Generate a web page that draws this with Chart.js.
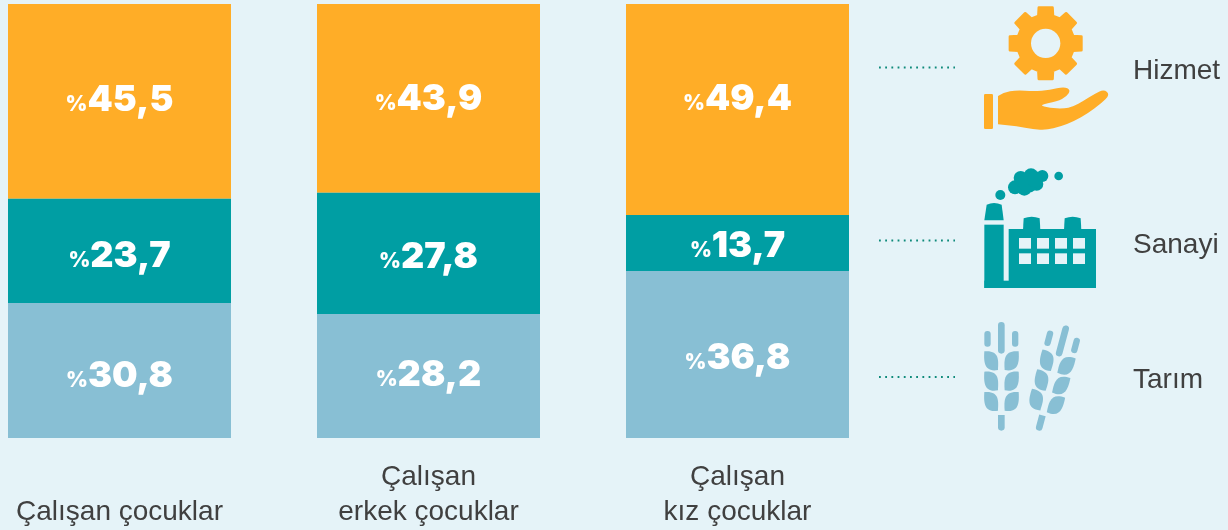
<!DOCTYPE html>
<html lang="tr">
<head>
<meta charset="utf-8">
<title>Çalışan çocuklar</title>
<script src="https://cdn.jsdelivr.net/npm/chart.js@4"></script>
<style>
html,body{margin:0;padding:0;width:1228px;height:530px;overflow:hidden;background:#E5F3F8}
#wrap{position:absolute;left:-35px;top:0;width:1263px;height:530px}
</style>
</head>
<body>
<div id="wrap"><canvas id="c" width="1263" height="530"></canvas></div>
<script>
const categories = [['', 'Çalışan çocuklar'], ['Çalışan', 'erkek çocuklar'], ['Çalışan', 'kız çocuklar'], ''];
const seriesNames = ['Tarım', 'Sanayi', 'Hizmet'];
// Printed values, as the reference's labels state them
const tarimPrinted = ['30,8', '28,2', '36,8'];
const sanayiPrinted = ['23,7', '27,8', '13,7'];
const hizmetPrinted = ['45,5', '43,9', '49,4'];
// Segment heights (the reference's segments are not exactly to scale with its labels)
const tarimDrawn = [31.1, 28.6, 38.5];
const sanayiDrawn = [24.0, 27.9, 12.9];
const hizmetDrawn = [44.9, 43.5, 48.6];

const C = {bg:'#E5F3F8', orange:'#FFAD27', teal:'#009EA3', blue:'#88BFD4', text:'#404040', dot:'#0E8A7A'};
const OX = 35; // canvas offset
const labelShift = [[3,-3,1.5],[3.5,1.5,1.5],[-3.5,-1.5,-12.5]]; // per series, per bar: px from segment centre

function rr(ctx,x,y,w,h,r){ctx.beginPath();ctx.roundRect(x,y,w,h,r);ctx.fill();}
function smooth(ctx,pts){
  ctx.beginPath();
  ctx.moveTo(pts[0][0],pts[0][1]);
  for(let i=1;i<pts.length-1;i++){
    const mx=(pts[i][0]+pts[i+1][0])/2,my=(pts[i][1]+pts[i+1][1])/2;
    ctx.quadraticCurveTo(pts[i][0],pts[i][1],mx,my);
  }
  ctx.lineTo(pts[pts.length-1][0],pts[pts.length-1][1]);
  ctx.closePath();ctx.fill();
}
function gear(ctx){
  const cx=557,cy=130,R=109,r=85,n=8;
  ctx.beginPath();
  for(let i=0;i<n;i++){
    const a=-Math.PI/2+i*2*Math.PI/n, s=2*Math.PI/n;
    const p=(rad,t)=>[cx+rad*Math.cos(a+t*s),cy+rad*Math.sin(a+t*s)];
    const q=[p(r,-0.33),p(R,-0.24),p(R,0.24),p(r,0.33)];
    q.forEach((pt,j)=>{ (i===0&&j===0)?ctx.moveTo(pt[0],pt[1]):ctx.lineTo(pt[0],pt[1]); });
  }
  ctx.closePath();
  ctx.lineJoin='round';ctx.lineWidth=8;ctx.strokeStyle=C.orange;ctx.fillStyle=C.orange;ctx.stroke();ctx.fill();
  ctx.fillStyle=C.bg;ctx.beginPath();ctx.arc(cx,cy,44,0,7);ctx.fill();
}
function hand(ctx){
  ctx.fillStyle=C.orange;
  rr(ctx,372,282,27,105,4);
  smooth(ctx,[[414,288],[430,278],[470,270],[520,274],[570,270],[612,260],[632,270],[620,290],[592,304],[535,315],[570,324],[610,326],[640,320],[670,303],[705,281],[732,268],[750,284],[724,310],[684,340],[642,364],[600,380],[560,390],[520,388],[470,378],[414,373]]);
}
function factory(ctx){
  ctx.fillStyle=C.teal;
  ctx.fillRect(373,674,58,190);
  ctx.fillRect(446,687,262,177);
  ctx.fillRect(373,842,335,22);
  ctx.beginPath();ctx.moveTo(380,614);ctx.quadraticCurveTo(402,604,425,614);ctx.lineTo(431,661);ctx.lineTo(373,661);ctx.closePath();ctx.fill();
  [[495,535,489,541],[618,658,612,664]].forEach(k=>{
    ctx.beginPath();ctx.moveTo(k[2]+2,655);ctx.quadraticCurveTo((k[0]+k[1])/2,645,k[3]-2,655);ctx.lineTo(k[3],690);ctx.lineTo(k[2],690);ctx.closePath();ctx.fill();
  });
  [[421,585,15],[596,528,13],[465,562,21],[482,534,21],[513,527,22],[547,528,18],[530,552,20],[493,565,22],[505,548,30],[525,538,24]].forEach(c=>{
    ctx.beginPath();ctx.arc(c[0],c[1],c[2],0,7);ctx.fill();
  });
  ctx.fillStyle=C.bg;
  [477,531,585,639].forEach(x=>[714,760].forEach(y=>ctx.fillRect(x,y,36,32)));
}
function wheat(ctx){
  ctx.fillStyle=C.blue;
  rr(ctx,414,66,20,95,10);
  rr(ctx,373,93,19,47,9);
  rr(ctx,456,93,19,47,9);
  rr(ctx,414,345,20,47,[0,0,10,10]);
  [154,215,276].forEach(y=>{
    ctx.beginPath();ctx.moveTo(373,y);ctx.bezierCurveTo(418,y-4,416,y+26,414,y+56);ctx.bezierCurveTo(372,y+64,371,y+30,373,y);ctx.closePath();ctx.fill();
    ctx.beginPath();ctx.moveTo(476,y);ctx.bezierCurveTo(431,y-4,432,y+26,434,y+56);ctx.bezierCurveTo(477,y+64,478,y+30,476,y);ctx.closePath();ctx.fill();
  });
}

const decorations = {
  id:'decorations',
  afterDatasetsDraw(chart){
    const ctx=chart.ctx;
    const printed=[tarimPrinted,sanayiPrinted,hizmetPrinted];
    ctx.save();
    ctx.fillStyle='#fff';ctx.textBaseline='alphabetic';ctx.textAlign='left';
    printed.forEach((vals,d)=>{
      const meta=chart.getDatasetMeta(d);
      vals.forEach((v,i)=>{
        const el=meta.data[i];
        const cy=(el.y+el.base)/2+labelShift[d][i];
        ctx.font='900 21px Inter';const w1=ctx.measureText('%').width;
        ctx.font='900 36px Inter';const w2=ctx.measureText(v).width;
        const x=el.x-(w1+w2)/2;
        ctx.font='900 21px Inter';ctx.fillText('%',x,cy+13);
        ctx.font='900 36px Inter';ctx.fillText(v,x+w1,cy+13);
      });
    });
    ctx.restore();
    ctx.save();
    ctx.translate(OX,0);
    ctx.strokeStyle=C.dot;ctx.lineWidth=1.8;ctx.setLineDash([1.8,4.4]);
    [67.5,240.5,377].forEach(y=>{ctx.beginPath();ctx.moveTo(879,y);ctx.lineTo(955,y);ctx.stroke();});
    ctx.setLineDash([]);
    ctx.fillStyle=C.text;ctx.font='28px "Liberation Sans"';ctx.textBaseline='middle';ctx.textAlign='left';
    [[seriesNames[2],71],[seriesNames[1],245],[seriesNames[0],380]].forEach(t=>ctx.fillText(t[0],1133,t[1]));
    ctx.save();ctx.translate(860,0);ctx.scale(1/3,1/3);
    gear(ctx);hand(ctx);factory(ctx);
    ctx.save();ctx.translate(0,900);wheat(ctx);
    ctx.translate(537,385);ctx.rotate(15*Math.PI/180);ctx.translate(-424,-385);wheat(ctx);
    ctx.restore();
    ctx.restore();
    ctx.restore();
  }
};

new Chart(document.getElementById('c'),{
  type:'bar',
  data:{
    labels:categories,
    datasets:[
      {label:seriesNames[0],data:tarimDrawn,backgroundColor:C.blue},
      {label:seriesNames[1],data:sanayiDrawn,backgroundColor:C.teal},
      {label:seriesNames[2],data:hizmetDrawn,backgroundColor:C.orange}
    ]
  },
  options:{
    responsive:false,animation:false,devicePixelRatio:1,
    layout:{padding:{left:0,right:27,top:4,bottom:0}},
    datasets:{bar:{categoryPercentage:223/309,barPercentage:1,borderWidth:0}},
    plugins:{legend:{display:false},tooltip:{enabled:false},title:{display:false}},
    scales:{
      x:{stacked:true,grid:{display:false},border:{display:false},
        ticks:{color:C.text,font:{family:'"Liberation Sans"',size:28,lineHeight:1.25},padding:14,maxRotation:0,autoSkip:false},
        afterFit(s){s.height=92;}},
      y:{stacked:true,display:false,min:0,max:100}
    }
  },
  plugins:[decorations]
});
</script>
</body>
</html>
